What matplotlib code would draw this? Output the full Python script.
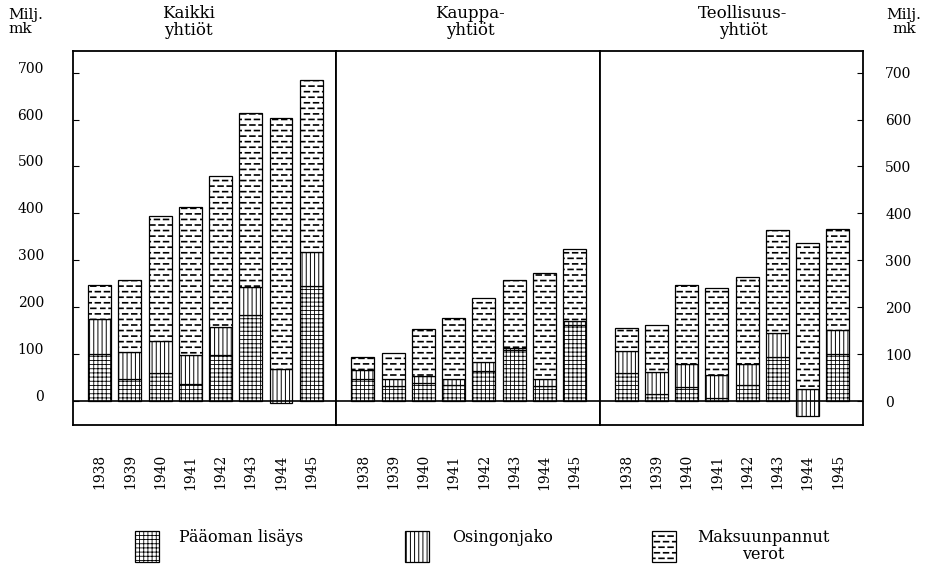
"""
Osakeyhtiöiden pääoman lisäys, osingonjako ja maksuunpannut verot 1938-1945.
Kolme paneelia: kaikki yhtiöt, kauppayhtiöt, teollisuusyhtiöt.
"""

import warnings
import numpy as np
import matplotlib
matplotlib.use('Agg')
import matplotlib.pyplot as plt
import matplotlib.hatch as mhatch
from matplotlib.path import Path
from matplotlib.patches import Rectangle

warnings.filterwarnings('ignore')
plt.rcParams['font.family'] = ['DejaVu Serif']

# ---- data (milj. mk) ----
YEARS = ['1938', '1939', '1940', '1941', '1942', '1943', '1944', '1945']
TITLES = ['Kaikki\nyhtiöt', 'Kauppa-\nyhtiöt', 'Teollisuus-\nyhtiöt']
LEGEND_LABELS = ['Pääoman lisäys', 'Osingonjako', 'Maksuunpannut\nverot']
Y_TICKS = [0, 100, 200, 300, 400, 500, 600, 700]

kaikki_paaoma = [100, 46, 59, 36, 98, 183, -5, 245]
kaikki_osinko = [74, 59, 70, 62, 59, 61, 74, 73]
kaikki_verot = [73, 154, 265, 316, 323, 369, 535, 366]

kauppa_paaoma = [46, 33, 38, 34, 64, 109, 32, 162]
kauppa_osinko = [20, 14, 15, 14, 20, 5, 16, 9]
kauppa_verot = [28, 56, 100, 130, 136, 144, 224, 152]

teoll_paaoma = [59, 16, 29, 6, 34, 93, -31, 100]
teoll_osinko = [48, 46, 51, 49, 46, 51, 56, 51]
teoll_verot = [48, 100, 167, 187, 185, 221, 311, 215]

PANELS = [
    (kaikki_paaoma, kaikki_osinko, kaikki_verot),
    (kauppa_paaoma, kauppa_osinko, kauppa_verot),
    (teoll_paaoma, teoll_osinko, teoll_verot),
]


class DashHatch(mhatch.HatchPatternBase):
    """Porrastetut lyhyet viivat (kuviomerkki '_')."""

    def __init__(self, hatch, density):
        segs = []
        if hatch.count('_'):
            rows, cols, dash = 18, 11, 0.048
            for i in range(rows):
                y = (i + 0.5) / rows
                shift = 0.5 / cols if i % 2 else 0.0
                for j in range(cols):
                    x0 = j / cols + shift
                    x1 = x0 + dash
                    if x1 > 1:
                        segs.append((x0, 1.0, y))
                        segs.append((0.0, x1 - 1.0, y))
                    else:
                        segs.append((x0, x1, y))
        self.segs = segs
        self.num_vertices = 2 * len(segs)

    def set_vertices_and_codes(self, vertices, codes):
        for k, (x0, x1, y) in enumerate(self.segs):
            vertices[2 * k] = (x0, y)
            vertices[2 * k + 1] = (x1, y)
            codes[2 * k] = Path.MOVETO
            codes[2 * k + 1] = Path.LINETO


mhatch._hatch_types.append(DashHatch)

# kuvio ja viivanpaksuus kullekin sarjalle
STYLES = [('++++', 0.6), ('||||', 0.7), ('_', 1.2)]

W, H = 925, 565
fig, axes = plt.subplots(1, 3, figsize=(W / 100, H / 100), dpi=100, sharey=True)
fig.subplots_adjust(left=73 / W, right=863 / W, top=1 - 51 / H,
                    bottom=1 - 425 / H, wspace=0)

x = np.arange(len(YEARS))
bw = 0.76
for ax, (paaoma, osinko, verot) in zip(axes, PANELS):
    p = np.array(paaoma, dtype=float)
    d = np.array(osinko, dtype=float)
    v = np.array(verot, dtype=float)

    plt.rcParams['hatch.linewidth'] = STYLES[0][1]
    ax.bar(x, np.maximum(p, 0), bw, bottom=0, facecolor='white',
           edgecolor='black', linewidth=0.9, hatch=STYLES[0][0])
    plt.rcParams['hatch.linewidth'] = STYLES[1][1]
    ax.bar(x, d, bw, bottom=p, facecolor='white',
           edgecolor='black', linewidth=0.9, hatch=STYLES[1][0])
    plt.rcParams['hatch.linewidth'] = STYLES[2][1]
    ax.bar(x, v, bw, bottom=p + d, facecolor='white',
           edgecolor='black', linewidth=0.9, hatch=STYLES[2][0])

    ax.axhline(0, color='black', linewidth=1.2)
    ax.set_xlim(-0.88, 7.83)
    ax.set_ylim(-51, 746)
    ax.set_xticks(x, YEARS, rotation=90, fontsize=10)
    ax.tick_params(axis='x', length=0, pad=21)
    for s in ax.spines.values():
        s.set_linewidth(1.3)

axes[0].set_yticks(Y_TICKS)
axes[0].tick_params(axis='y', direction='in', length=4, pad=21, labelsize=10)
for t in axes[0].get_yticklabels():
    t.set_va('baseline')
axes[1].tick_params(axis='y', left=False, labelleft=False)
axes[2].tick_params(axis='y', left=False, labelleft=False, right=True,
                    labelright=True, direction='in', length=4, pad=16,
                    labelsize=10)

# otsikot
for cx, title in zip([188, 470, 743], TITLES):
    fig.text(cx / W, 1 - 22 / H, title, ha='center', va='center',
             fontsize=12, linespacing=1.05)
fig.text(8 / W, 1 - 22 / H, 'Milj.\nmk', ha='left', va='center',
         fontsize=11, linespacing=1.05)
fig.text(904 / W, 1 - 22 / H, 'Milj.\nmk', ha='center', va='center',
         fontsize=11, linespacing=1.05)

# selite
legend_pos = [(135, 179), (405, 452), (652, 697)]
for (px, tx), (hatch, lw), label in zip(legend_pos, STYLES, LEGEND_LABELS):
    plt.rcParams['hatch.linewidth'] = lw
    fig.add_artist(Rectangle((px / W, 1 - 562 / H), 24 / W, 31 / H,
                             transform=fig.transFigure, facecolor='white',
                             edgecolor='black', linewidth=0.9, hatch=hatch))
    if '\n' in label:
        fig.text(tx / W, 1 - 546 / H, label, ha='left', va='center',
                 multialignment='center', fontsize=11.5, linespacing=1.0)
    else:
        fig.text(tx / W, 1 - 538 / H, label, ha='left', va='center',
                 fontsize=11.5)

fig.savefig('out.png', dpi=100)
